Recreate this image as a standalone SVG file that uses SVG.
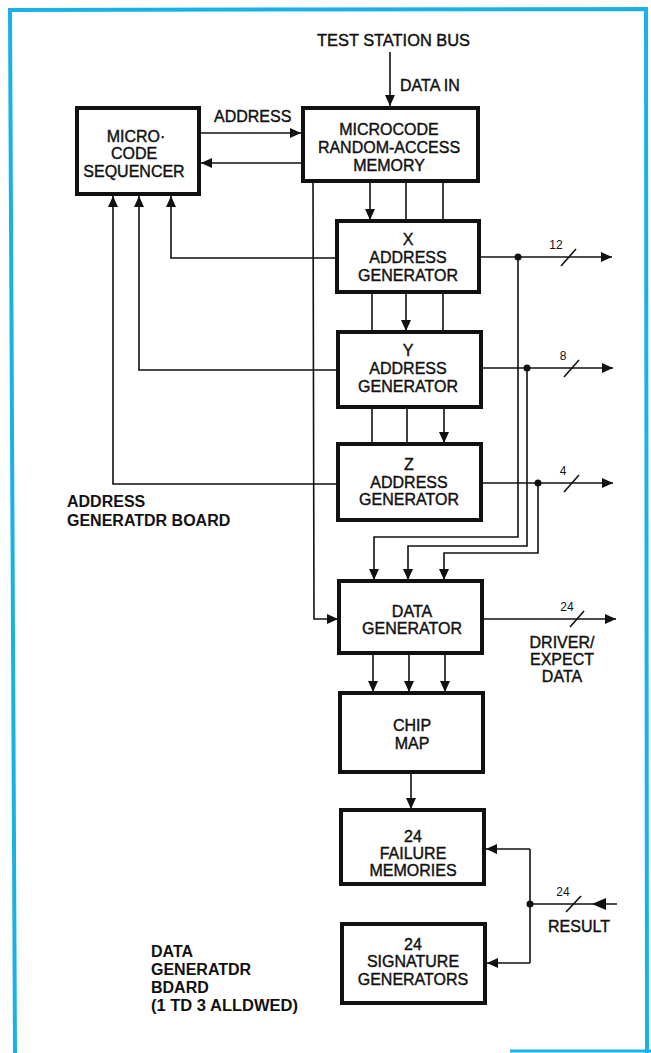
<svg xmlns="http://www.w3.org/2000/svg" width="651" height="1053" viewBox="0 0 651 1053">
<style>
.bg{fill:#ffffff}
.frame{fill:none;stroke:#1ab2e6;stroke-width:4}
.box{fill:#ffffff;stroke:#111;stroke-width:4}
.c{fill:none;stroke:#111;stroke-width:1.6}
.t{font-family:"Liberation Sans",Arial,sans-serif;font-size:16px;text-anchor:middle;fill:#111;stroke:#111;stroke-width:0.4}
.l{font-family:"Liberation Sans",Arial,sans-serif;font-size:16px;fill:#111;stroke:#111;stroke-width:0.4}
.b{font-family:"Liberation Sans",Arial,sans-serif;font-size:16px;font-weight:bold;fill:#111}
.n{font-family:"Liberation Sans",Arial,sans-serif;font-size:12px;text-anchor:middle;fill:#111}
.dot{fill:#111}
</style>
<defs>
<marker id="ah" markerUnits="userSpaceOnUse" markerWidth="12" markerHeight="10" refX="11" refY="5" orient="auto">
<path d="M0,0 L11,5 L0,10 Z" fill="#111"/>
</marker>
</defs>
<rect class="bg" x="0" y="0" width="651" height="1053"/>
<path class="frame" d="M15,1053 L10,10 L646,9 L647,1053"/>
<line x1="510" y1="1051" x2="651" y2="1051" stroke="#1ab2e6" stroke-width="3"/>

<g id="connectors">
<line class="c" x1="390" y1="52" x2="390" y2="106" marker-end="url(#ah)"/>
<line class="c" x1="200" y1="133" x2="301" y2="133" marker-end="url(#ah)"/>
<line class="c" x1="302" y1="163" x2="201" y2="163" marker-end="url(#ah)"/>
<line class="c" x1="370" y1="180" x2="370" y2="220" marker-end="url(#ah)"/>
<line class="c" x1="406" y1="180" x2="406" y2="221"/>
<line class="c" x1="443" y1="180" x2="443" y2="221"/>
<polyline class="c" points="313,180 314,619 338,619" marker-end="url(#ah)"/>
<line class="c" x1="372" y1="292" x2="372" y2="332"/>
<line class="c" x1="406" y1="292" x2="406" y2="331" marker-end="url(#ah)"/>
<line class="c" x1="443" y1="292" x2="443" y2="332"/>
<line class="c" x1="372" y1="407" x2="372" y2="444"/>
<line class="c" x1="407" y1="407" x2="407" y2="444"/>
<line class="c" x1="444" y1="407" x2="444" y2="443" marker-end="url(#ah)"/>
<polyline class="c" points="337,258 171,258 171,196" marker-end="url(#ah)"/>
<polyline class="c" points="337,370 139,370 139,196" marker-end="url(#ah)"/>
<polyline class="c" points="338,484 113,484 113,196" marker-end="url(#ah)"/>
<line class="c" x1="479" y1="257" x2="612" y2="257" marker-end="url(#ah)"/>
<polyline class="c" points="518,257 518,537 374,537 374,580" marker-end="url(#ah)"/>
<line class="c" x1="481" y1="368" x2="613" y2="368" marker-end="url(#ah)"/>
<polyline class="c" points="527,368 527,546 408,546 408,580" marker-end="url(#ah)"/>
<line class="c" x1="481" y1="483" x2="613" y2="483" marker-end="url(#ah)"/>
<polyline class="c" points="538,483 538,553 444,553 444,580" marker-end="url(#ah)"/>
<line class="c" x1="482" y1="619" x2="616" y2="619" marker-end="url(#ah)"/>
<line class="c" x1="373" y1="653" x2="373" y2="692" marker-end="url(#ah)"/>
<line class="c" x1="409" y1="653" x2="409" y2="692" marker-end="url(#ah)"/>
<line class="c" x1="445" y1="653" x2="445" y2="692" marker-end="url(#ah)"/>
<line class="c" x1="411" y1="772" x2="411" y2="809" marker-end="url(#ah)"/>
<line class="c" x1="617" y1="904" x2="530" y2="904"/>
<path d="M592,904 L606,898 L606,910 Z" fill="#111"/>
<line class="c" x1="530" y1="849" x2="530" y2="963"/>
<line class="c" x1="530" y1="849" x2="486" y2="849" marker-end="url(#ah)"/>
<line class="c" x1="530" y1="963" x2="487" y2="963" marker-end="url(#ah)"/>
<circle class="dot" cx="518" cy="257" r="3.5"/>
<circle class="dot" cx="527" cy="368" r="3.5"/>
<circle class="dot" cx="538" cy="483" r="3.5"/>
<circle class="dot" cx="530" cy="904" r="3.5"/>
<line class="c" x1="561" y1="266" x2="576" y2="249"/>
<line class="c" x1="564" y1="377" x2="579" y2="360"/>
<line class="c" x1="564" y1="492" x2="579" y2="475"/>
<line class="c" x1="570" y1="627" x2="584" y2="611"/>
<line class="c" x1="566" y1="912" x2="581" y2="896"/>
<text class="n" x="556" y="249">12</text>
<text class="n" x="563" y="360">8</text>
<text class="n" x="563" y="475">4</text>
<text class="n" x="567" y="611">24</text>
<text class="n" x="563" y="896">24</text>
<text class="l" x="317" y="46" textLength="153" lengthAdjust="spacingAndGlyphs">TEST STATION BUS</text>
<text class="l" x="400" y="91">DATA IN</text>
<text class="l" x="214" y="122">ADDRESS</text>
<text class="t" x="562" y="648">DRIVER/</text>
<text class="t" x="562" y="665">EXPECT</text>
<text class="t" x="562" y="682">DATA</text>
<text class="t" x="579" y="932">RESULT</text>
</g>

<g id="microcode-sequencer">
<rect class="box" x="77" y="108" width="122" height="86"/>
<text class="t" x="136" y="142">MICRO·</text>
<text class="t" x="134" y="159">CODE</text>
<text class="t" x="134" y="177">SEQUENCER</text>
</g>
<g id="microcode-ram">
<rect class="box" x="303" y="108" width="175" height="73"/>
<text class="t" x="389" y="135">MICROCODE</text>
<text class="t" x="389" y="153">RANDOM-ACCESS</text>
<text class="t" x="389" y="171">MEMORY</text>
</g>
<g id="x-address-generator">
<rect class="box" x="337" y="221" width="142" height="71"/>
<text class="t" x="408" y="245">X</text>
<text class="t" x="408" y="263">ADDRESS</text>
<text class="t" x="408" y="281">GENERATOR</text>
</g>
<g id="y-address-generator">
<rect class="box" x="338" y="332" width="143" height="75"/>
<text class="t" x="408" y="356">Y</text>
<text class="t" x="408" y="374">ADDRESS</text>
<text class="t" x="408" y="392">GENERATOR</text>
</g>
<g id="z-address-generator">
<rect class="box" x="338" y="444" width="143" height="76"/>
<text class="t" x="409" y="470">Z</text>
<text class="t" x="409" y="488">ADDRESS</text>
<text class="t" x="409" y="505">GENERATOR</text>
</g>
<g id="address-board-label">
<text class="b" x="67" y="507">ADDRESS</text>
<text class="b" x="67" y="526">GENERATDR BOARD</text>
</g>
<g id="data-generator">
<rect class="box" x="339" y="581" width="143" height="72"/>
<text class="t" x="412" y="617">DATA</text>
<text class="t" x="412" y="634">GENERATOR</text>
</g>
<g id="chip-map">
<rect class="box" x="340" y="693" width="143" height="79"/>
<text class="t" x="412" y="731">CHIP</text>
<text class="t" x="412" y="749">MAP</text>
</g>
<g id="failure-memories">
<rect class="box" x="341" y="810" width="143" height="74"/>
<text class="t" x="413" y="842">24</text>
<text class="t" x="413" y="859">FAILURE</text>
<text class="t" x="413" y="876">MEMORIES</text>
</g>
<g id="signature-generators">
<rect class="box" x="342" y="924" width="143" height="79"/>
<text class="t" x="413" y="950">24</text>
<text class="t" x="413" y="967">SIGNATURE</text>
<text class="t" x="413" y="985">GENERATORS</text>
</g>
<g id="data-board-label">
<text class="b" x="151" y="957">DATA</text>
<text class="b" x="151" y="975">GENERATDR</text>
<text class="b" x="151" y="993">BDARD</text>
<text class="b" x="151" y="1011" textLength="147" lengthAdjust="spacingAndGlyphs">(1 TD 3 ALLDWED)</text>
</g>
</svg>
